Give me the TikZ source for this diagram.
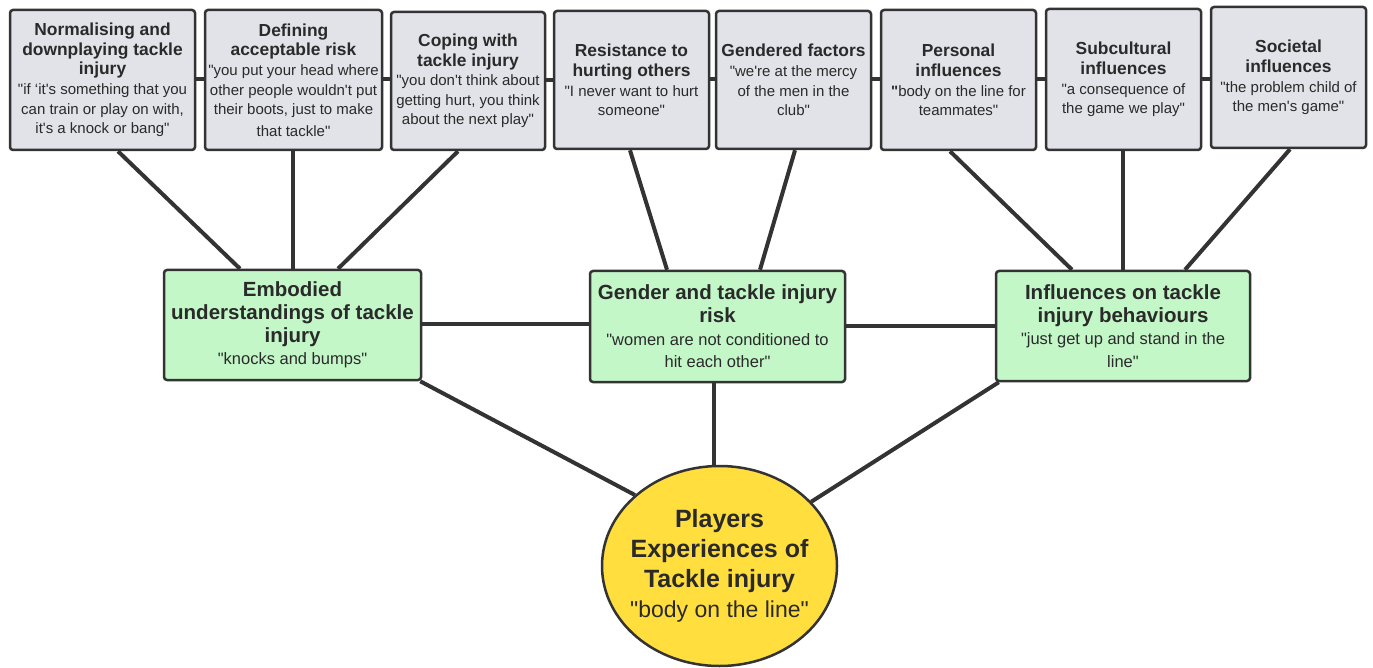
\documentclass[tikz,border=0pt]{standalone}
\usepackage{fontspec}
\setmainfont{Liberation Sans}
\usetikzlibrary{calc,shapes.geometric}
\definecolor{lnc}{HTML}{333333}
\definecolor{greyf}{HTML}{E1E3E8}
\definecolor{greenf}{HTML}{C3F7C8}
\definecolor{yellowf}{HTML}{FFDE3E}
\definecolor{txt}{HTML}{2A2A2A}
\newcommand\ap{\textquotesingle}
\newcommand\dq{\textquotedbl}
\newcommand\ttl[1]{{\bfseries\fontsize{17.4}{20}\selectfont #1}}
\newcommand\mtl[1]{{\bfseries\fontsize{20.5}{23}\selectfont #1}}
\newcommand\ctl[1]{{\bfseries\fontsize{25}{30}\selectfont #1}}
\pgfdeclarelayer{back}
\pgfdeclarelayer{paper}
\pgfsetlayers{paper,back,main}
\begin{document}
\begin{tikzpicture}[x=1pt,y=-1pt,
  topbox/.style={draw=lnc, fill=greyf, line width=2.5pt, rounded corners=3pt, align=center, inner sep=0pt, text=txt, font=\fontsize{15}{19.6}\selectfont},
  midbox/.style={topbox, fill=greenf, font=\fontsize{16.5}{22.6}\selectfont},
  link/.style={draw=lnc, line width=4pt}]
\begin{pgfonlayer}{paper}
\fill[white] (0,0) rectangle (1373,668);
\end{pgfonlayer}
\useasboundingbox (0,0) rectangle (1373,668);

% top boxes
\node[topbox, minimum width=185pt, minimum height=140pt] (b1) at (102.5,80)
  {\ttl{Normalising and}\\\ttl{downplaying tackle}\\\ttl{injury}\\\dq if ‘it\ap s something that you\\can train or play on with,\\it\ap s a knock or bang\dq};
\node[topbox, minimum width=177pt, minimum height=140pt] (b2) at (293.5,80)
  {\ttl{Defining}\\\ttl{acceptable risk}\\\dq you put your head where\\other people wouldn\ap t put\\their boots, just to make\\[2pt]that tackle\dq};
\node[topbox, minimum width=154pt, minimum height=138pt] (b3) at (468,81)
  {\ttl{Coping with}\\\ttl{tackle injury}\\\dq you don\ap t think about\\getting hurt, you think\\about the next play\dq};
\node[topbox, minimum width=155pt, minimum height=138pt] (b4) at (631.5,80)
  {\ttl{Resistance to}\\\ttl{hurting others}\\\dq I never want to hurt\\someone\dq};
\node[topbox, minimum width=155pt, minimum height=138pt] (b5) at (793.5,80)
  {\ttl{Gendered factors}\\\dq we\ap re at the mercy\\of the men in the\\club\dq};
\node[topbox, minimum width=155pt, minimum height=140pt] (b6) at (958.5,80)
  {\ttl{Personal}\\\ttl{influences}\\\textbf{\dq}body on the line for\\teammates\dq};
\node[topbox, minimum width=155pt, minimum height=141pt] (b7) at (1123.5,79.5)
  {\ttl{Subcultural}\\\ttl{influences}\\\dq a consequence of\\the game we play\dq};
\node[topbox, minimum width=155pt, minimum height=141pt] (b8) at (1288.5,77.5)
  {\ttl{Societal}\\\ttl{influences}\\\dq the problem child of\\the men\ap s game\dq};

% middle boxes
\node[midbox, minimum width=257pt, minimum height=110pt] (emb) at (292.5,325)
  {\mtl{Embodied}\\\mtl{understandings of tackle}\\\mtl{injury}\\\dq knocks and bumps\dq};
\node[midbox, minimum width=255pt, minimum height=111pt] (gen) at (717.5,326.5)
  {\mtl{Gender and tackle injury}\\\mtl{risk}\\\dq women are not conditioned to\\hit each other\dq};
\node[midbox, minimum width=254pt, minimum height=110pt] (infl) at (1123,326)
  {\mtl{Influences on tackle}\\\mtl{injury behaviours}\\\dq just get up and stand in the\\line\dq};

% central ellipse
\node[ellipse, draw=lnc, fill=yellowf, line width=2.5pt, minimum width=235pt, minimum height=200pt, inner xsep=-40pt, inner ysep=0pt, align=center, text=txt, font=\fontsize{23}{30}\selectfont] (circ) at (719.5,566)
  {\ctl{Players}\\\ctl{Experiences of}\\\ctl{Tackle injury}\\\dq body on the line\dq};

\begin{pgfonlayer}{back}
  % links between top boxes
  \draw[link] (b1.center |- 0,79) -- (b2.center |- 0,79);
  \draw[link] (b2.center |- 0,79) -- (b3.center |- 0,79);
  \draw[link] (b3.center |- 0,80) -- (b4.center |- 0,80);
  \draw[link] (b4.center |- 0,79) -- (b5.center |- 0,79);
  \draw[link] (b5.center |- 0,79) -- (b6.center |- 0,79);
  \draw[link] (b6.center |- 0,79) -- (b7.center |- 0,79);
  \draw[link] (b7.center |- 0,79) -- (b8.center |- 0,79);
  % top to middle
  \draw[link] ([xshift=15.5pt]b1.south) -- ([xshift=-52.5pt]emb.north);
  \draw[link] ([xshift=-0.5pt]b2.south) -- ([xshift=0.5pt]emb.north);
  \draw[link] ([xshift=-10pt]b3.south) -- ([xshift=45.5pt]emb.north);
  \draw[link] ([xshift=-1.5pt]b4.south) -- ([xshift=-50.5pt]gen.north);
  \draw[link] ([xshift=1.5pt]b5.south) -- ([xshift=42.5pt]gen.north);
  \draw[link] ([xshift=-8.5pt]b6.south) -- ([xshift=-51pt]infl.north);
  \draw[link] ([xshift=-0.5pt]b7.south) -- (infl.north);
  \draw[link] ([xshift=1.5pt]b8.south) -- ([xshift=62pt]infl.north);
  % middle links
  \draw[link] (emb.center |- 0,324) -- (gen.center |- 0,324);
  \draw[link] (gen.center |- 0,326) -- (infl.center |- 0,326);
  % middle to centre
  \draw[link] ([xshift=-2pt]emb.south east) -- (circ.140);
  \draw[link] ([xshift=-3.5pt]gen.south) -- ([xshift=-5.5pt]circ.north);
  \draw[link] ([xshift=4pt]infl.south west) -- (circ.35);
\end{pgfonlayer}
\end{tikzpicture}
\end{document}
